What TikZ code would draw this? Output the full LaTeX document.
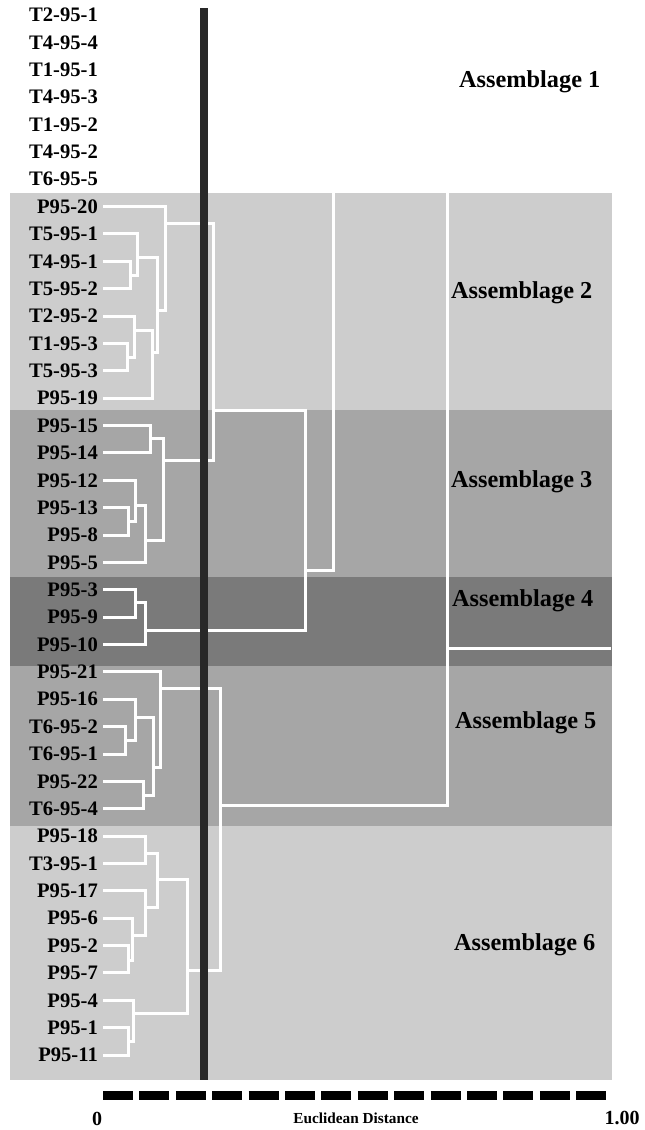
\documentclass[tikz,border=0pt]{standalone}
\usepackage{fontspec}
\setmainfont{Liberation Serif}
\definecolor{bandlight}{RGB}{205,205,205}
\definecolor{bandmid}{RGB}{166,166,166}
\definecolor{banddark}{RGB}{122,122,122}
\definecolor{barcol}{RGB}{40,40,40}
\tikzset{
  leaf/.style={anchor=east,inner sep=0pt,font=\fontsize{20.6}{21}\selectfont\bfseries},
  asm/.style={anchor=west,inner sep=0pt,font=\fontsize{24.3}{25}\selectfont\bfseries},
  axislbl/.style={inner sep=0pt,font=\fontsize{20}{20}\selectfont\bfseries},
  dend/.style={white,line width=3pt,line join=miter,line cap=rect},
}
\newcommand\dendjoin[5]{%
  \coordinate (#4) at (#3,#5);
  \draw[dend] (#1) -- (#1 -| #4) -- (#2 -| #4) -- (#2);}
\begin{document}
\begin{tikzpicture}[x=1pt,y=-1pt]
\useasboundingbox (0,0) rectangle (645,1130);
% bands
\fill[bandlight] (10,193) rectangle (612,410);
\fill[bandmid] (10,410) rectangle (612,577);
\fill[banddark] (10,577) rectangle (612,666);
\fill[bandmid] (10,666) rectangle (612,826);
\fill[bandlight] (10,826) rectangle (612,1080);
% leaves
\foreach \i/\t in {0/T2-95-1,1/T4-95-4,2/T1-95-1,3/T4-95-3,4/T1-95-2,5/T4-95-2,6/T6-95-5,
  7/P95-20,8/T5-95-1,9/T4-95-1,10/T5-95-2,11/T2-95-2,12/T1-95-3,13/T5-95-3,14/P95-19,
  15/P95-15,16/P95-14,17/P95-12,18/P95-13,19/P95-8,20/P95-5,
  21/P95-3,22/P95-9,23/P95-10,
  24/P95-21,25/P95-16,26/T6-95-2,27/T6-95-1,28/P95-22,29/T6-95-4,
  30/P95-18,31/T3-95-1,32/P95-17,33/P95-6,34/P95-2,35/P95-7,36/P95-4,37/P95-1,38/P95-11}{
  \node[leaf] (n\i) at (98,{15+27.37*\i}) {\t};
  \coordinate (l\i) at (104,{15+27.37*\i});
}
% Assemblage 2
\dendjoin{l9}{l10}{130}{a1}{275}
\dendjoin{l8}{a1}{137}{a2}{257}
\dendjoin{l12}{l13}{127}{a3}{357}
\dendjoin{l11}{a3}{134}{a4}{330}
\dendjoin{a4}{l14}{152}{a5}{352}
\dendjoin{a2}{a5}{157}{a6}{310}
\dendjoin{l7}{a6}{165}{a7}{223}
% Assemblage 3
\dendjoin{l15}{l16}{150}{b1}{438}
\dendjoin{l18}{l19}{128}{b2}{521}
\dendjoin{l17}{b2}{135}{b3}{505}
\dendjoin{b3}{l20}{145}{b4}{540}
\dendjoin{b1}{b4}{163}{b5}{460}
\dendjoin{a7}{b5}{213}{c1}{410}
% Assemblage 4
\dendjoin{l21}{l22}{135}{d1}{602}
\dendjoin{d1}{l23}{145}{d2}{630}
\dendjoin{c1}{d2}{305}{c2}{570}
\coordinate (t333) at (333,193);
\dendjoin{t333}{c2}{333}{c3}{380}
% Assemblage 5
\dendjoin{l26}{l27}{125}{e1}{740}
\dendjoin{l25}{e1}{135}{e2}{717}
\dendjoin{l28}{l29}{143}{e3}{795}
\dendjoin{e2}{e3}{153}{e4}{767}
\dendjoin{l24}{e4}{160}{e5}{688}
% Assemblage 6
\dendjoin{l30}{l31}{145}{f1}{853}
\dendjoin{l34}{l35}{128}{f2}{960}
\dendjoin{l33}{f2}{132}{f3}{935}
\dendjoin{l32}{f3}{145}{f4}{907}
\dendjoin{f1}{f4}{157}{f5}{879}
\dendjoin{l37}{l38}{128}{f6}{1041}
\dendjoin{l36}{f6}{133}{f7}{1013}
\dendjoin{f5}{f7}{187}{f8}{970}
\dendjoin{e5}{f8}{220}{g1}{805}
\coordinate (t447) at (447,193);
\dendjoin{t447}{g1}{447}{g2}{648}
\coordinate (rootend) at (611,648);
\draw[dend,line cap=butt] (g2) -- (rootend);
% cut line
\coordinate (cuttop) at (204,8);
\coordinate (cutbot) at (204,1080);
\draw[barcol,line width=8pt] (cuttop) -- (cutbot);
% assemblage labels
\node[asm] (A1) at (459,82) {Assemblage 1};
\node[asm] (A2) at (451,293) {Assemblage 2};
\node[asm] (A3) at (451,482) {Assemblage 3};
\node[asm] (A4) at (452,601) {Assemblage 4};
\node[asm] (A5) at (455,723) {Assemblage 5};
\node[asm] (A6) at (454,945) {Assemblage 6};
% axis
\coordinate (ax0) at (103,1095);
\coordinate (ax1) at (606,1095);
\draw[black,line width=9pt,dash pattern=on 30pt off 6.4pt] (ax0) -- (ax1);
\node[axislbl] (zero) at (97,1119) {0};
\node[axislbl,font=\fontsize{15.3}{16}\selectfont\bfseries] (eucl) at (356,1118) {Euclidean Distance};
\node[axislbl] (one) at (622,1118) {1.00};
\end{tikzpicture}
\end{document}
